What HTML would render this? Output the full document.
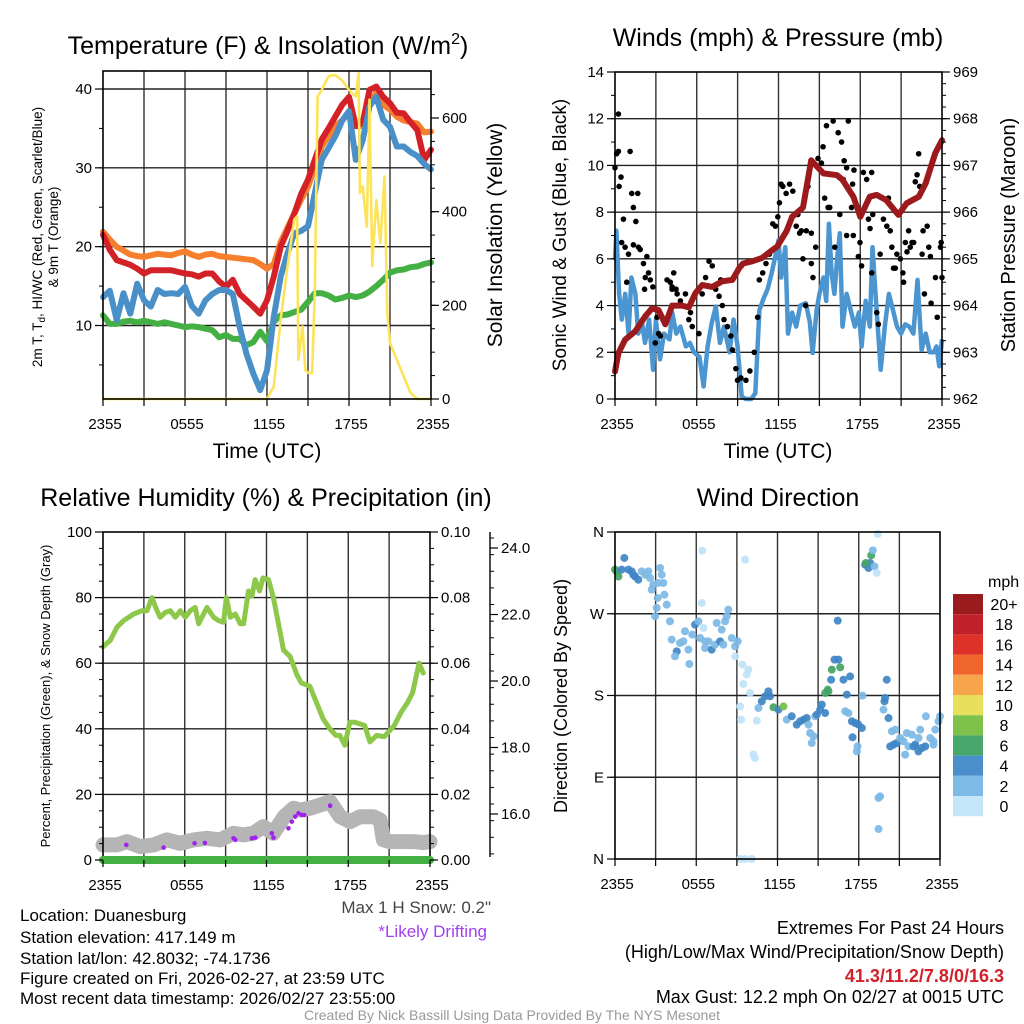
<!DOCTYPE html>
<html><head><meta charset="utf-8"><style>
html,body{margin:0;padding:0;background:#fff;}
svg{display:block;font-family:"Liberation Sans",sans-serif;}
</style></head><body>
<svg id="fig" width="1024" height="1024" viewBox="0 0 1024 1024">
<rect width="1024" height="1024" fill="#fff"/>
<g id="g1"></g>
<g id="g2"></g>
<g id="g3"></g>
<g id="g4"></g>
<g id="txt" font-size="17" fill="#000">
<text x="268" y="54" font-size="25" text-anchor="middle">Temperature (F) &amp; Insolation (W/m<tspan font-size="16" dy="-10">2</tspan><tspan dy="10">)</tspan></text>
<text x="778" y="46" font-size="25" text-anchor="middle">Winds (mph) &amp; Pressure (mb)</text>
<text x="266" y="506" font-size="25" text-anchor="middle">Relative Humidity (%) &amp; Precipitation (in)</text>
<text x="778" y="506" font-size="25" text-anchor="middle">Wind Direction</text>
<text x="267" y="458" font-size="21" text-anchor="middle">Time (UTC)</text>
<text x="778" y="458" font-size="21" text-anchor="middle">Time (UTC)</text>
<text transform="translate(42,237) rotate(-90)" font-size="13.5" text-anchor="middle">2m T, T<tspan font-size="10" dy="3">d</tspan><tspan dy="-3">, HI/WC (Red, Green, Scarlet/Blue)</tspan></text>
<text transform="translate(58,237) rotate(-90)" font-size="13.5" text-anchor="middle">&amp; 9m T (Orange)</text>
<text transform="translate(502,235) rotate(-90)" font-size="21" text-anchor="middle">Solar Insolation (Yellow)</text>
<text transform="translate(566,235) rotate(-90)" font-size="19" text-anchor="middle">Sonic Wind &amp; Gust (Blue, Black)</text>
<text transform="translate(1015,235) rotate(-90)" font-size="20" text-anchor="middle">Station Pressure (Maroon)</text>
<text transform="translate(50,696) rotate(-90)" font-size="13" text-anchor="middle">Percent, Precipitation (Green), &amp; Snow Depth (Gray)</text>
<text transform="translate(567,696) rotate(-90)" font-size="18" text-anchor="middle">Direction (Colored By Speed)</text>
<text x="20" y="921">Location: Duanesburg</text>
<text x="20" y="943">Station elevation: 417.149 m</text>
<text x="20" y="964">Station lat/lon: 42.8032; -74.1736</text>
<text x="20" y="984">Figure created on Fri, 2026-02-27, at 23:59 UTC</text>
<text x="20" y="1004">Most recent data timestamp: 2026/02/27 23:55:00</text>
<text x="491" y="913" fill="#444" text-anchor="end">Max 1 H Snow: 0.2"</text>
<text x="487" y="937" fill="#a23ff0" text-anchor="end">*Likely Drifting</text>
<text x="1004" y="934" font-size="18" text-anchor="end">Extremes For Past 24 Hours</text>
<text x="1004" y="958" font-size="18" text-anchor="end">(High/Low/Max Wind/Precipitation/Snow Depth)</text>
<text x="1004" y="982" font-size="18" text-anchor="end" fill="#d0202a" font-weight="bold">41.3/11.2/7.8/0/16.3</text>
<text x="1004" y="1003" font-size="18" text-anchor="end">Max Gust: 12.2 mph On 02/27 at 0015 UTC</text>
<text x="512" y="1020" font-size="14" fill="#999" text-anchor="middle">Created By Nick Bassill Using Data Provided By The NYS Mesonet</text>
<text x="988" y="587" font-size="16">mph</text>
</g>
</svg>
<script>
// ---------- DATA ----------
const halfHours = []; for (let i = 0; i <= 48; i++) halfHours.push(i * 0.5);
const temp9m = [21.9,20.9,20.0,19.5,19.0,18.8,18.7,18.9,19.1,19.0,18.9,19.2,19.4,19.0,18.7,19.0,19.1,18.8,18.7,18.6,18.5,18.4,18.3,17.8,17.2,17.8,20.6,22.4,24.2,26.0,27.6,30.0,32.7,34.0,35.3,36.0,37.0,35.3,35.3,38.3,39.5,38.0,37.4,36.5,36.0,35.8,35.6,34.5,34.6];
const temp2m = [21.5,19.6,18.3,18.0,17.7,17.2,16.6,17.0,17.0,17.0,17.0,16.8,16.6,16.5,16.2,16.6,16.6,15.6,14.9,15.8,14.0,13.2,12.4,11.5,13.2,16.2,20.0,22.0,24.2,26.7,28.5,31.0,33.6,35.0,36.5,38.0,39.0,35.3,35.7,39.9,40.3,39.0,38.2,37.0,36.9,35.8,34.8,31.0,32.3];
const hiwc = [13.6,14.4,10.7,14.1,11.5,15.3,13.2,12.4,14.5,14.0,14.1,14.0,14.9,12.5,11.5,13.2,14.0,14.5,14.5,14.0,9.8,6.4,3.9,1.8,4.3,11.1,16.2,19.2,21.7,22.0,22.6,26.8,31.0,32.5,34.0,36.0,37.2,31.0,33.5,37.8,39.0,36.1,35.2,32.7,32.7,32.0,31.5,30.5,29.8];
const dewpt = [11.3,10.2,10.2,10.5,10.6,10.4,10.6,10.4,10.2,10.4,10.2,10.0,9.8,9.9,9.8,9.6,9.4,8.5,8.8,8.3,8.3,7.5,7.9,9.2,8.0,10.5,11.3,11.4,11.7,12.0,13.0,14.1,14.1,13.8,13.3,13.5,13.8,13.6,13.8,14.3,15.0,15.8,16.7,17.0,17.1,17.4,17.5,17.8,18.0];
const solHours = [0,12,12.5,13,13.5,14,14.2,14.3,14.6,14.8,15.0,15.3,15.5,15.7,16,16.5,17,17.5,18,18.5,18.7,18.8,19,19.3,19.5,19.7,20,20.3,20.6,20.8,21,21.5,22,22.5,23,24];
const solVals = [0,0,27,170,283,383,390,84,155,62,56,56,226,646,660,689,692,680,660,646,696,440,454,368,639,284,425,333,475,183,120,84,48,13,0,0];
const tempTicks = [10,20,30,40];
const solTicks = [0,200,400,600];
const timeLabels = ["2355","0555","1155","1755","2355"];

const presHours = [0,0.25,0.74,1.48,2.22,2.71,3.2,3.69,4.19,4.93,5.42,5.91,6.4,7.14,7.88,8.62,9.11,9.4,10.1,10.8,11.6,11.9,12.6,13.0,13.8,14.4,15.3,16.3,16.7,17.5,18.0,18.7,19.2,19.9,20.8,21.4,22.3,22.8,23.5,24];
const presVals = [962.59,962.98,963.27,963.45,963.77,963.94,963.9,963.6,964.0,964.0,963.96,964.27,964.44,964.4,964.52,964.55,964.8,964.9,964.95,965.02,965.2,965.26,965.6,965.9,966.1,967.11,966.83,966.79,966.69,966.33,965.9,966.33,966.37,966.26,965.94,966.19,966.33,966.62,967.26,967.54];
const windHours = [0,0.1,0.3,0.5,0.75,1.0,1.2,1.5,1.7,2.0,2.2,2.5,2.8,3.0,3.3,3.6,4.0,4.2,4.5,4.8,5.2,5.5,5.8,6.2,6.5,6.8,7.1,7.4,7.7,8.0,8.4,8.7,9.0,9.3,9.6,10,10.3,10.6,10.9,11.2,11.5,11.8,12.0,12.2,12.5,12.7,13.0,13.3,13.6,14.0,14.3,14.5,14.8,15.0,15.3,15.5,15.7,15.9,16.1,16.3,16.5,16.7,17.0,17.3,17.6,17.9,18.1,18.4,18.7,18.9,19.2,19.5,19.8,20.1,20.4,20.7,21.0,21.3,21.6,21.9,22.2,22.5,22.8,23.1,23.4,23.6,23.8,24];
const windVals = [5.95,7.2,4.5,3.4,4.5,2.8,5.2,4.5,2.8,3.2,2.4,3.4,1.25,3.4,1.7,2.8,2.55,3.7,2.8,3.1,2.25,2.4,2.0,1.8,0.54,2.25,3.25,3.96,2.4,3.1,2.0,3.4,2.25,0.1,0,0,0.25,3.8,4.3,4.7,5.4,6.2,6.8,5.2,6.5,2.8,3.7,3.1,4.0,4.1,3.3,1.97,3.8,4.5,5.2,4.2,7.5,5.4,4.5,6.0,7.1,3.1,4.5,3.8,3.1,3.7,2.25,4.2,3.1,6.5,3.8,1.25,3.1,4.5,3.8,3.1,2.8,3.2,3.1,2.8,5.1,2.1,2.8,2.0,2.0,2.25,1.4,2.55];
const gustHours = [0.25,0.12,0.25,0,0.3,0.44,1.11,0.62,1.23,1.35,1.67,1.53,0.49,0.74,0.99,0.86,1.35,1.72,1.85,2.09,2.22,2.34,2.46,2.59,2.17,2.78,3.08,3.2,3.33,2.96,3.82,4.06,4.19,4.19,4.31,4.48,4.56,4.8,4.93,5.17,5.54,5.67,5.42,6.16,6.4,6.65,6.9,7.14,7.76,7.39,7.64,7.88,8.0,8.25,8.5,8.62,8.87,8.99,9.24,9.61,9.9,10.22,10.47,10.59,10.84,11.08,11.33,11.58,11.77,11.95,12.07,12.19,12.32,12.56,12.81,13.05,13.3,13.55,13.67,14.04,14.41,14.73,13.42,13.79,14.53,14.41,13.99,14.16,14.9,15.15,15.27,15.52,15.64,15.39,15.76,16.13,16.01,16.38,16.63,16.82,17.0,16.75,17.12,17.44,17.54,17.36,16.5,17.0,17.49,17.98,17.86,18.1,18.23,18.47,18.84,18.92,18.6,18.72,18.84,19.21,19.33,19.46,19.7,19.95,20.07,20.2,20.32,20.44,20.57,20.69,20.94,21.13,21.18,21.31,21.43,21.55,21.67,21.8,21.92,22.04,22.17,22.29,22.36,22.54,22.61,22.71,22.91,23.03,23.15,23.2,23.52,23.65,23.89,23.94,24.0,23.77];
const gustVals = [12.2,10.5,10.6,9.9,9.1,9.5,10.6,7.7,8.8,8.2,8.8,7.6,6.7,6.5,6.2,5.0,6.6,6.5,6.4,5.8,5.2,6.1,5.4,5.1,4.7,4.8,3.5,2.8,2.7,2.4,5.1,5.0,4.8,4.7,5.4,4.7,4.5,4.2,4.0,4.5,3.7,3.1,3.4,2.8,4.5,5.2,5.9,5.7,5.1,4.7,4.4,4.0,3.4,3.1,2.7,2.1,1.3,0.8,0.9,0.8,1.2,2.0,3.5,5.1,5.4,5.8,6.2,7.5,7.4,7.8,8.4,9.2,9.1,8.8,9.2,8.9,7.4,7.1,7.2,7.2,7.1,6.5,7.9,6.0,5.2,5.8,4.0,9.1,10.3,10.1,10.8,11.7,8.2,8.6,8.2,6.5,11.9,11.4,11.0,10.2,9.9,9.4,11.9,9.2,9.8,8.2,7.9,7.0,7.0,6.7,6.1,5.7,9.7,9.4,9.7,7.9,7.7,7.3,5.4,3.7,3.2,6.2,7.7,7.4,8.6,7.2,6.5,5.6,5.6,6.2,6.0,5.4,5.0,6.7,6.3,7.2,6.5,6.7,6.7,9.3,9.6,10.5,9.1,6.2,7.2,4.5,7.4,6.5,6.1,4.1,5.2,3.5,6.5,6.7,5.2];
const windTicks = [0,2,4,6,8,10,12,14];
const presTicks = [962,963,964,965,966,967,968,969];

const rhHours = [0,0.54,1.03,1.52,2.25,2.86,3.23,3.59,3.96,4.2,4.57,4.94,5.31,5.67,6.04,6.41,6.77,7.02,7.63,8.12,8.48,8.85,9.05,9.34,9.71,10.07,10.32,10.68,10.93,11.17,11.49,11.74,12.15,12.51,12.88,13.25,13.74,14.23,14.55,15.18,15.67,16.16,16.65,17.09,17.39,17.75,18.12,18.49,19.21,19.59,20.08,20.64,21.38,21.87,22.35,22.72,23.2,23.5];
const rhVals = [65,67,71,73,75,76,76,80,76,74,75.5,76,74,76,74,76,77,72,77,74,73,72.5,80,74,75,72,72,82,80.5,85.5,82,86,85.5,80,72,64,62,56.5,54,53,48,43,40,38,38,35,42,42,41,36,38,37.6,41,45,48,51,60,57];
const snowHours = [0,1.03,1.76,2.74,3.72,4.69,5.67,6.65,7.63,8.6,9.58,10.31,11.03,11.76,12.49,13.3,13.98,14.47,15.18,15.94,16.67,17.41,18.14,18.87,19.85,20.34,20.58,21.07,21.8,22.78,23.5,24];
const snowDepth = [15.07,15.07,15.17,15.02,15.07,15.22,15.12,15.22,15.27,15.22,15.42,15.37,15.42,15.62,15.42,15.92,16.17,16.12,16.17,16.27,16.37,15.92,15.77,15.92,15.92,15.82,15.22,15.17,15.17,15.17,15.14,15.17];
const driftHours = [1.71,4.45,6.72,7.48,9.58,9.71,10.93,11.17,12.39,12.51,13.61,13.86,14.11,14.35,14.6,14.77,16.67];
const driftDepth = [15.07,14.99,15.12,15.13,15.27,15.22,15.27,15.29,15.42,15.29,15.57,15.77,15.92,16.02,15.97,15.97,16.25];
const precipHours = [0,24];
const precipVals = [0,0];
const rhTicks = [0,20,40,60,80,100];
const precipTicks = ["0.00","0.02","0.04","0.06","0.08","0.10"];
const snowTicks = [16,18,20,22,24];

const dirHours = [0,0.25,0.12,0.69,0.49,0.99,1.23,1.48,1.72,1.35,1.97,2.22,2.46,2.59,2.83,3.33,3.45,3.57,3.2,2.71,3.15,3.08,2.96,3.65,3.82,4.06,4.19,4.56,4.43,4.8,5.17,5.05,5.42,5.49,5.71,5.91,6.16,6.28,6.53,6.4,6.45,6.65,6.65,6.9,7.14,7.39,7.51,7.76,7.88,8.13,8.25,8.37,8.0,8.62,8.87,9.06,8.87,9.41,9.61,9.85,9.73,9.48,9.98,9.24,9.31,10.47,10.22,10.34,9.24,9.61,10.1,10.59,10.84,11.08,11.33,11.45,11.7,12.07,12.44,12.68,13.05,13.42,13.67,13.92,14.16,14.29,14.41,14.66,14.53,14.78,14.9,15.15,15.27,15.52,15.52,15.71,15.76,15.96,16.01,16.21,16.5,16.63,16.87,17.36,17.12,16.45,17.0,17.24,17.49,17.73,17.98,18.23,17.54,17.91,17.86,18.28,18.47,18.72,18.84,18.52,18.92,19.04,19.16,19.33,19.41,20.07,19.95,19.9,19.83,20.2,19.58,19.46,19.46,20.44,20.69,20.32,20.57,20.81,21.06,21.31,21.43,21.67,21.92,22.17,22.41,22.66,22.91,22.54,22.96,23.28,23.52,23.65,23.89,24.0,23.52,21.55,22.41,22.04];
const dirDeg = [318.6,311,316.7,331.4,318.6,318.6,316.7,311,307.5,313,316.7,313,316.7,309.4,302,320.4,313,303.9,303.9,296.5,287.4,276.4,267.2,291,280,261.7,241.5,228.6,223.1,237.8,250.7,239.6,230.5,214.7,247,258,261.7,243.3,254.3,281.9,339.5,239.6,232.3,239.6,230.5,236,259.8,239.6,252.5,261.7,267.2,274.5,236,243.3,234.1,239.6,223.1,214,329.6,208.5,203,192.7,182.8,168,153.4,152.3,114.9,111.2,0,0,0,166.3,173.6,179.1,184.6,179.1,167,164.4,168,153.4,157.1,147.9,151.6,153.4,155.2,147.9,138.7,135.1,127.7,157.1,158.9,164.4,169.9,160.7,182.8,186.4,184.6,197.4,208.5,219.5,219.5,211,197.4,201,181,262.4,162.6,160.7,151.6,149.7,147.9,144.2,134,124,118.5,179.8,324,320.4,325.9,325.9,334.3,339.8,322.2,314.9,357.8,197.4,177.3,173.6,164.4,155.2,69,67.2,33,140.6,142.4,124,125.9,127.7,133.2,129.6,114.9,124,136.9,125.9,118.5,122.2,124,142.4,157.1,133.2,129.6,142.4,151.6,157.1,125.9,138.7,133.2,124];
const dirSpeed = [6,6,6,4,4,4,4,4,4,4,2,2,2,2,2,2,2,2,2,2,2,2,2,2,2,2,2,4,2,2,2,2,2,2,2,4,2,2,0,0,0,2,2,2,4,2,2,4,2,2,2,2,2,2,2,2,0,0,0,0,0,0,0,0,0,0,0,0,0,0,0,2,4,4,4,4,6,4,8,2,4,4,4,4,4,2,2,2,2,2,4,4,4,4,6,6,6,4,6,4,4,6,4,4,4,4,2,2,4,4,4,4,4,2,2,2,4,4,4,6,6,2,2,0,0,4,4,4,2,4,2,2,2,2,2,4,4,4,2,2,2,2,2,4,4,4,4,2,2,2,2,2,2,2,2,2,2,4];
const dirLabels = ["N","E","S","W","N"];
const legendLabels = ["20+","18","16","14","12","10","8","6","4","2","0"];
const legendColors = ["#9a1b1e","#c0202a","#de3129","#f0652c","#f7a54b","#e8e05a","#7fc24b","#47a66a","#4a8fcb","#7dbbe6","#c4e6f8"];

// ---------- HELPERS ----------
const NS = "http://www.w3.org/2000/svg";
function mk(parent, tag, attrs) { const e = document.createElementNS(NS, tag); for (const k in attrs) e.setAttribute(k, attrs[k]); parent.appendChild(e); return e; }
function lin(d0, d1, r0, r1) { return v => r0 + (v - d0) * (r1 - r0) / (d1 - d0); }
function pathD(xs, ys, fx, fy) { const n = Math.min(xs.length, ys.length); let s = ""; for (let i = 0; i < n; i++) s += (i ? "L" : "M") + fx(xs[i]).toFixed(1) + "," + fy(ys[i]).toFixed(1); return s; }
function frame(g, x0, y0, x1, y1, name) {
  const r = mk(g, "rect", {x: x0, y: y0, width: x1 - x0, height: y1 - y0, fill: "none", stroke: "#000", "stroke-width": 1.6});
  
  
}
function vgrid(g, fx, y0, y1) {
  for (let h = 3; h < 24; h += 3) {
    const l = mk(g, "line", {x1: fx(h), x2: fx(h), y1: y0, y2: y1, stroke: "#333", "stroke-width": 1.4});
    
    
  }
}
function hline(g, x0, x1, y) {
  const l = mk(g, "line", {x1: x0, x2: x1, y1: y, y2: y, stroke: "#222", "stroke-width": 1.4});
  
  
}
function xAxis(g, fx, yb) {
  for (let h = 0; h <= 24; h += 3) mk(g, "line", {x1: fx(h), x2: fx(h), y1: yb, y2: yb + 7, stroke: "#000", "stroke-width": 1.2});
  timeLabels.forEach((s, i) => {
    const t = mk(g, "text", {x: fx(i * 6) + 2, y: yb + 30, "font-size": 15, "text-anchor": "middle"});
    t.textContent = s;
    
    
  });
}
function yTicks(g, x, fy, vals, labels, side, minorStep, dmin, dmax, name) {
  const dir = side === "left" ? -1 : 1;
  for (let v = dmin; v <= dmax + 1e-9; v += minorStep) mk(g, "line", {x1: x, x2: x + dir * 4, y1: fy(v), y2: fy(v), stroke: "#000", "stroke-width": 1});
  vals.forEach((v, i) => {
    mk(g, "line", {x1: x, x2: x + dir * 8, y1: fy(v), y2: fy(v), stroke: "#000", "stroke-width": 1.2});
    const t = mk(g, "text", {x: x + dir * 11, y: fy(v) + 5, "font-size": 15, "text-anchor": side === "left" ? "end" : "start"});
    t.textContent = labels[i];
    
    
  });
}

// ---------- PANEL 1 ----------
(function () {
  const g = document.getElementById("g1");
  const x0 = 103, x1 = 431, y0 = 71, y1 = 399;
  const fx = lin(0, 24, x0, x1), fT = lin(40, 10, 89, 325.5), fS = lin(0, 600, 399, 118);
  vgrid(g, fx, y0, y1);
  tempTicks.forEach(v => hline(g, x0, x1, fT(v)));
  const series = [[dewpt, "#44b043", "dewpoint-line"], [temp9m, "#f57f2c", "temp-9m-line"], [temp2m, "#d42027", "temp-2m-line"], [hiwc, "#4a90c8", "heat-index-windchill-line"]];
  series.forEach(s => {
    const p = mk(g, "path", {d: pathD(halfHours, s[0], fx, fT), fill: "none", stroke: s[1], "stroke-width": 6, "stroke-linejoin": "round", "stroke-linecap": "round"});
    
    
  });
  const sp = mk(g, "path", {d: pathD(solHours, solVals, fx, fS), fill: "none", stroke: "#fde35a", "stroke-width": 2.6, "stroke-linejoin": "round"});
  
  
  frame(g, x0, y0, x1, y1, "temperature-plot-frame");
  xAxis(g, fx, y1);
  yTicks(g, x0, fT, tempTicks, tempTicks.map(String), "left", 5, 5, 40, "temp-y-tick");
  yTicks(g, x1, fS, solTicks, solTicks.map(String), "right", 50, 0, 650, "solar-y-tick");
})();

// ---------- PANEL 2 ----------
(function () {
  const g = document.getElementById("g2");
  const x0 = 615, x1 = 942, y0 = 72, y1 = 399;
  const fx = lin(0, 24, x0, x1), fW = lin(0, 14, y1, y0), fP = lin(962, 969, y1, y0);
  vgrid(g, fx, y0, y1);
  windTicks.forEach(v => { if (v > 0 && v < 14) hline(g, x0, x1, fW(v)); });
  const wp = mk(g, "path", {d: pathD(windHours, windVals, fx, fW), fill: "none", stroke: "#4b95d0", "stroke-width": 4.5, "stroke-linejoin": "round"});
  
  
  const n = Math.min(gustHours.length, gustVals.length);
  for (let i = 0; i < n; i++) {
    const h = gustHours[i], v = gustVals[i];
    if (!isFinite(h) || !isFinite(v) || v < 0 || v > 14) continue;
    const c = mk(g, "circle", {cx: fx(h), cy: fW(v), r: 2.8, fill: "#000"});
    
    
  }
  const pp = mk(g, "path", {d: pathD(presHours, presVals, fx, fP), fill: "none", stroke: "#9c1a1c", "stroke-width": 6, "stroke-linejoin": "round", "stroke-linecap": "round"});
  
  
  frame(g, x0, y0, x1, y1, "wind-plot-frame");
  xAxis(g, fx, y1);
  yTicks(g, x0, fW, windTicks, windTicks.map(String), "left", 1, 0, 14, "wind-y-tick");
  yTicks(g, x1, fP, presTicks, presTicks.map(String), "right", 0.25, 962, 969, "pressure-y-tick");
})();

// ---------- PANEL 3 ----------
(function () {
  const g = document.getElementById("g3");
  const x0 = 103, x1 = 430, y0 = 532, y1 = 860;
  const fx = lin(0, 24, x0, x1), fR = lin(0, 100, y1, y0), fPr = lin(0, 0.1, y1, y0), fD = lin(16, 18, 814, 747.5);
  vgrid(g, fx, y0, y1);
  rhTicks.forEach(v => { if (v > 0 && v < 100) hline(g, x0, x1, fR(v)); });
  const sp = mk(g, "path", {d: pathD(snowHours, snowDepth, fx, fD), fill: "none", stroke: "#b5b5b5", "stroke-width": 15, "stroke-linejoin": "round", "stroke-linecap": "round"});
  
  
  driftHours.forEach((h, i) => {
    const c = mk(g, "circle", {cx: fx(h), cy: fD(driftDepth[i]), r: 2.3, fill: "#a020f0"});
    
    
  });
  const rp = mk(g, "path", {d: pathD(rhHours, rhVals, fx, fR), fill: "none", stroke: "#8dc84a", "stroke-width": 5, "stroke-linejoin": "round", "stroke-linecap": "round"});
  
  
  frame(g, x0, y0, x1, y1, "humidity-plot-frame");
  const pr = mk(g, "path", {d: pathD(precipHours, precipVals, fx, fPr), fill: "none", stroke: "#44b043", "stroke-width": 8, "stroke-linecap": "round"});
  
  
  xAxis(g, fx, y1);
  yTicks(g, x0, fR, rhTicks, rhTicks.map(String), "left", 5, 0, 100, "humidity-y-tick");
  yTicks(g, x1, fPr, precipTicks.map(Number), precipTicks, "right", 0.005, 0, 0.1, "precip-y-tick");
  const ax = mk(g, "line", {x1: 490, x2: 490, y1: 532, y2: 857, stroke: "#000", "stroke-width": 1.4});
  
  
  yTicks(g, 490, fD, snowTicks, snowTicks.map(v => v.toFixed(1)), "right", 0.5, 14.8, 24.4, "snow-y-tick");
})();

// ---------- PANEL 4 ----------
(function () {
  const g = document.getElementById("g4");
  const x0 = 615, x1 = 940, y0 = 532, y1 = 859;
  const fx = lin(0, 24, x0, x1), fD = lin(0, 360, y1, y0);
  vgrid(g, fx, y0, y1);
  [90, 180, 270].forEach(v => hline(g, x0, x1, fD(v)));
  const cmap = {0: "#bfe3f7", 2: "#7cb9e5", 4: "#3f86c6", 6: "#44a466", 8: "#72be48"};
  dirHours.forEach((h, i) => {
    const c = mk(g, "circle", {cx: fx(h), cy: fD(dirDeg[i]), r: 4, fill: cmap[dirSpeed[i]] || "#7cb9e5", opacity: 0.92});
    
    
  });
  frame(g, x0, y0, x1, y1, "direction-plot-frame");
  xAxis(g, fx, y1);
  yTicks(g, x0, fD, [0, 90, 180, 270, 360], dirLabels, "left", 90, 0, 360, "direction-y-tick");
  legendColors.forEach((col, i) => {
    const r = mk(g, "rect", {x: 953, y: 594 + i * 20.2, width: 30, height: 20.2, fill: col});
    
    
    const t = mk(g, "text", {x: 1004, y: 610 + i * 20.2, "font-size": 16, "text-anchor": "middle"});
    t.textContent = legendLabels[i];
    
    
  });
})();
</script>
</body></html>
